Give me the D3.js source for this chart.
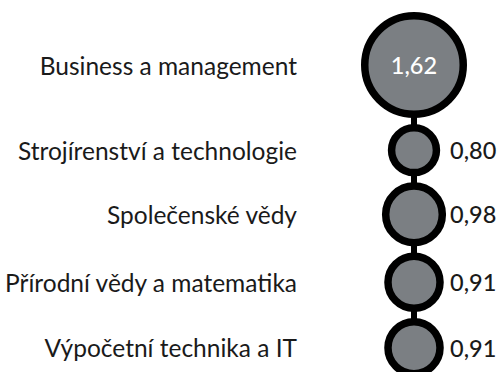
<!DOCTYPE html>
<html>
<head>
<meta charset="utf-8">
<script src="https://cdn.jsdelivr.net/npm/d3@7"></script>
<style>
  html, body { margin: 0; padding: 0; background: #ffffff; }
  svg { display: block; }
</style>
</head>
<body>
<svg id="chart" width="498" height="372"></svg>
<script>
// Obory a jejich hodnoty
const categories = [
  "Business a management",
  "Strojírenství a technologie",
  "Společenské vědy",
  "Přírodní vědy a matematika",
  "Výpočetní technika a IT"
];
const values = [1.62, 0.80, 0.98, 0.91, 0.91];
const valueLabels = ["1,62", "0,80", "0,98", "0,91", "0,91"];

const width = 498, height = 372;
const cx = 414;          // common x of the circle chain
const chainTop = 12;     // top edge of the first circle
const gap = 6;           // spacing between neighbouring circles
const strokeW = 7.5;
const labelRight = 297;  // right edge of category labels
const valueX = 450;      // left edge of value labels

const svg = d3.select("#chart");

// Outer radius is linear in the value
const r = d3.scaleLinear().domain([0, 1.62]).range([0, 53]);

// Stack circles vertically, each placed just below the previous one
const rows = [];
let yPos = chainTop;
categories.forEach((c, i) => {
  const ro = r(values[i]);
  const cy = yPos + ro;
  rows.push({ cat: c, value: values[i], label: valueLabels[i], ro, cy });
  yPos = cy + ro + gap;
});

// Connecting stem
svg.append("line")
  .attr("x1", cx).attr("x2", cx)
  .attr("y1", rows[0].cy).attr("y2", rows[rows.length - 1].cy)
  .attr("stroke", "#000").attr("stroke-width", 6);

// Circles
svg.selectAll("circle.node").data(rows).join("circle")
  .attr("class", "node")
  .attr("cx", cx)
  .attr("cy", d => d.cy)
  .attr("r", d => d.ro - strokeW / 2)
  .attr("fill", "#7b7f83")
  .attr("stroke", "#000")
  .attr("stroke-width", strokeW);

// Category labels
svg.selectAll("text.cat").data(rows).join("text")
  .attr("class", "cat")
  .attr("x", labelRight)
  .attr("y", d => d.cy)
  .attr("text-anchor", "end")
  .attr("dominant-baseline", "central")
  .attr("font-family", "Lato, 'Open Sans', sans-serif")
  .attr("font-size", 24.5)
  .attr("fill", "#1a1a1a")
  .text(d => d.cat);

// Value labels: the largest inside its circle, the rest to the right
svg.selectAll("text.val").data(rows).join("text")
  .attr("class", "val")
  .attr("x", (d, i) => i === 0 ? cx : valueX)
  .attr("y", d => d.cy)
  .attr("text-anchor", (d, i) => i === 0 ? "middle" : "start")
  .attr("dominant-baseline", "central")
  .attr("font-family", "Lato, 'Open Sans', sans-serif")
  .attr("font-weight", 500)
  .attr("font-size", 23.5)
  .attr("fill", (d, i) => i === 0 ? "#ffffff" : "#1a1a1a")
  .text(d => d.label);
</script>
</body>
</html>
